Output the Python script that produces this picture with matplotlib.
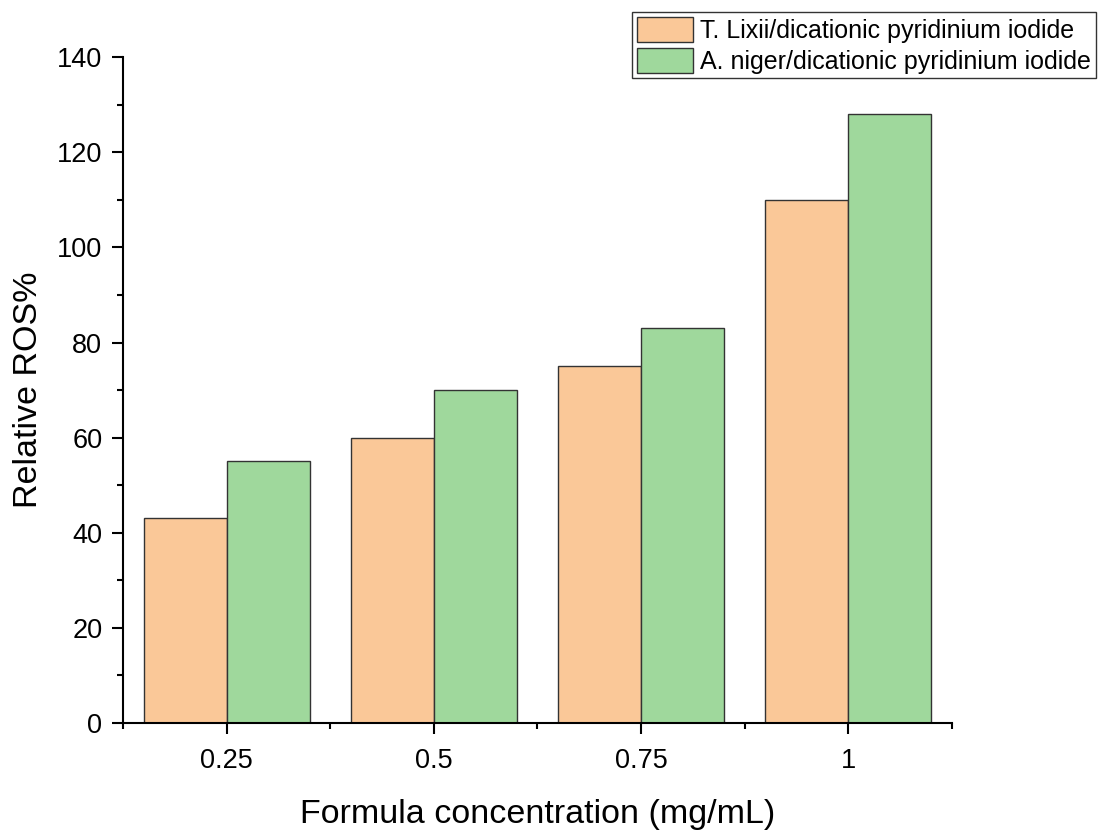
import matplotlib
matplotlib.use("Agg")
import matplotlib.pyplot as plt
from matplotlib.ticker import MultipleLocator, FixedLocator
import numpy as np

# ── Data ──────────────────────────────────────────────────────────────────────
concentrations = ["0.25", "0.5", "0.75", "1"]
t_lixii = [43, 60, 75, 110]
a_niger = [55, 70, 83, 128]
series_labels = [
    "T. Lixii/dicationic pyridinium iodide",
    "A. niger/dicationic pyridinium iodide",
]

ORANGE = "#FAC898"
GREEN = "#9FD89C"
EDGE = "#333333"

plt.rcParams["font.family"] = ["Liberation Sans", "DejaVu Sans"]

fig = plt.figure(figsize=(10.99, 8.30), dpi=100)
ax = fig.add_axes([0.112, 0.129, 0.754, 0.802])

x = np.arange(1, len(concentrations) + 1)
width = 0.4
ax.bar(x - width / 2, t_lixii, width, color=ORANGE, edgecolor=EDGE,
       linewidth=1.0, label=series_labels[0])
ax.bar(x + width / 2, a_niger, width, color=GREEN, edgecolor=EDGE,
       linewidth=1.0, label=series_labels[1])

# ── Axes formatting ───────────────────────────────────────────────────────────
ax.set_xlim(0.5, len(concentrations) + 0.5)
ax.set_ylim(0, 140)
ax.set_xticks(x)
ax.set_xticklabels(concentrations)
ax.xaxis.set_minor_locator(FixedLocator(np.arange(0.5, len(concentrations) + 1, 1.0)))
ax.yaxis.set_major_locator(MultipleLocator(20))
ax.yaxis.set_minor_locator(MultipleLocator(10))

for side in ("top", "right"):
    ax.spines[side].set_visible(False)
for side in ("left", "bottom"):
    ax.spines[side].set_linewidth(1.5)

ax.tick_params(which="major", direction="out", length=8, width=1.5,
               labelsize=19.5, pad=7)
ax.tick_params(which="minor", direction="out", length=4, width=1.5)
ax.tick_params(axis="x", which="major", pad=10)

ax.set_xlabel("Formula concentration (mg/mL)", fontsize=24.5, labelpad=18)
ax.set_ylabel("Relative ROS%", fontsize=24.5, labelpad=9)

leg = fig.legend(
    loc="upper right", bbox_to_anchor=(0.997, 0.985), fontsize=18,
    frameon=True, fancybox=False, framealpha=1, edgecolor=EDGE,
    handlelength=2.25, handleheight=1.15, labelspacing=0.2,
    handletextpad=0.3, borderpad=0.18, borderaxespad=0,
)
leg.get_frame().set_linewidth(1.0)

fig.savefig("out.png", dpi=100)
